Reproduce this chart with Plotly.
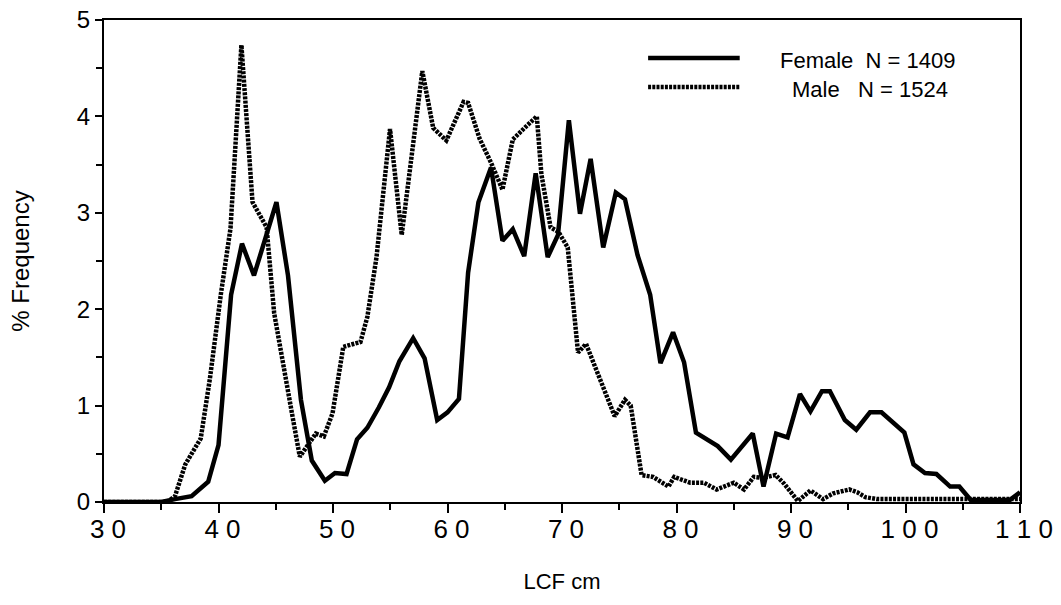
import plotly.graph_objects as go

# ---- data ----
female_cm = [30, 35, 36.2, 37.65, 39.1, 40.0, 41.1, 42.05, 43.1, 45.06, 46.07, 47.2, 48.15,
             49.29, 50.17, 51.18, 52.1, 53.0, 54.0, 54.9, 55.8, 57.0, 58.0, 59.1, 60.0,
             61.0, 61.8, 62.7, 63.8, 64.8, 65.7, 66.7, 67.7, 68.75, 69.65, 70.6, 71.57,
             72.5, 73.6, 74.7, 75.5, 76.6, 77.7, 78.6, 79.7, 80.66, 81.7, 83.6, 84.75,
             86.66, 87.6, 88.7, 89.7, 90.78, 91.7, 92.7, 93.4, 94.7, 95.7, 96.9, 97.9,
             98.7, 99.9, 100.7, 101.7, 102.7, 103.9, 104.7, 105.7, 109.1, 110]
female_pct = [0, 0, 0.03, 0.06, 0.21, 0.59, 2.15, 2.68, 2.35, 3.11, 2.35, 1.06, 0.43,
              0.22, 0.30, 0.29, 0.65, 0.77, 0.98, 1.19, 1.46, 1.70, 1.49, 0.85, 0.93,
              1.07, 2.38, 3.11, 3.47, 2.71, 2.83, 2.55, 3.41, 2.54, 2.77, 3.96, 2.99,
              3.56, 2.64, 3.21, 3.14, 2.56, 2.15, 1.44, 1.76, 1.45, 0.72, 0.58, 0.44,
              0.71, 0.16, 0.71, 0.67, 1.12, 0.94, 1.15, 1.15, 0.85, 0.75, 0.93, 0.93,
              0.85, 0.72, 0.39, 0.30, 0.29, 0.16, 0.16, 0.02, 0.02, 0.10]

male_cm = [30, 35.5, 36.2, 37.1, 38.45, 39.25, 40.2, 41.05, 42.0, 42.97, 44.2, 44.86,
           46.46, 47.1, 48.5, 49.2, 49.96, 50.9, 52.4, 53.0, 53.8, 54.98, 56.0, 57.8,
           58.75, 59.9, 61.4, 61.8, 62.8, 63.8, 64.8, 65.7, 66.9, 67.8, 68.2, 69.0,
           69.7, 70.5, 71.4, 72.1, 74.6, 75.5, 76.0, 76.95, 77.96, 79.3, 79.8, 81.2,
           82.4, 83.5, 85.0, 85.9, 86.75, 87.5, 88.65, 89.4, 90.6, 91.7, 92.8, 93.7,
           95.1, 95.8, 96.5, 97.5, 110]
male_pct = [0, 0, 0.06, 0.39, 0.66, 1.28, 2.15, 2.84, 4.74, 3.11, 2.85, 1.96,
            0.89, 0.47, 0.71, 0.68, 0.92, 1.61, 1.66, 1.92, 2.54, 3.87, 2.77, 4.47,
            3.88, 3.75, 4.15, 4.14, 3.77, 3.52, 3.24, 3.76, 3.90, 4.00, 3.40, 2.85,
            2.80, 2.64, 1.55, 1.64, 0.89, 1.06, 1.00, 0.28, 0.26, 0.16, 0.26, 0.20,
            0.20, 0.13, 0.20, 0.13, 0.26, 0.25, 0.28, 0.19, 0.01, 0.12, 0.03, 0.09,
            0.13, 0.10, 0.05, 0.03, 0.03]

x_tickvals = [30, 40, 50, 60, 70, 80, 90, 100, 110]
x_ticktext = ["3 0", "4 0", "5 0", "6 0", "7 0", "8 0", "9 0", "1 0 0", "1 1 0"]
y_tickvals = [0, 1, 2, 3, 4, 5]

legend_female = "Female\u00a0\u00a0N = 1409"
legend_male = "Male\u00a0\u00a0\u00a0N = 1524"

FONT = "Liberation Sans, Arial, Helvetica, sans-serif"
DOTS = "3px,1.2px"

fig = go.Figure()
fig.add_trace(go.Scatter(x=female_cm, y=female_pct, mode="lines",
                         line=dict(color="black", width=4.5), showlegend=False))
fig.add_trace(go.Scatter(x=male_cm, y=male_pct, mode="lines",
                         line=dict(color="black", width=4.5, dash=DOTS),
                         showlegend=False))

# custom legend keys
fig.add_shape(type="line", xref="paper", yref="paper", x0=0.594, x1=0.694,
              y0=0.921, y1=0.921, line=dict(color="black", width=4.5))
fig.add_shape(type="line", xref="paper", yref="paper", x0=0.594, x1=0.694,
              y0=0.861, y1=0.861, line=dict(color="black", width=4.5, dash=DOTS))
fig.add_annotation(x=0.833, y=0.915, xref="paper", yref="paper", text=legend_female,
                   showarrow=False, xanchor="center", yanchor="middle",
                   font=dict(size=22, color="black", family=FONT))
fig.add_annotation(x=0.836, y=0.855, xref="paper", yref="paper", text=legend_male,
                   showarrow=False, xanchor="center", yanchor="middle",
                   font=dict(size=22, color="black", family=FONT))

fig.update_layout(
    width=1061, height=605,
    margin=dict(l=104, r=41, t=20, b=103, autoexpand=False),
    paper_bgcolor="white", plot_bgcolor="white",
    font=dict(family=FONT, color="black"),
    xaxis=dict(range=[30, 110], tickvals=x_tickvals, ticktext=x_ticktext,
               automargin=False,
               showgrid=False, zeroline=False, showline=True, linecolor="black",
               linewidth=2, mirror=True, ticks="outside", ticklen=9, tickwidth=2,
               tickcolor="black", tickfont=dict(size=26), ticklabelstandoff=-6,
               ticklabelshift=4,
               minor=dict(dtick=5, tick0=30, ticks="outside", ticklen=6,
                          tickwidth=2, tickcolor="black", showgrid=False),
               title=dict(text="LCF cm", font=dict(size=22), standoff=30)),
    yaxis=dict(range=[0, 5], tickvals=y_tickvals,
               automargin=False,
               showgrid=False, zeroline=False, showline=True, linecolor="black",
               linewidth=2, mirror=True, ticks="outside", ticklen=7, tickwidth=2,
               tickcolor="black", tickfont=dict(size=24),
               minor=dict(dtick=0.5, tick0=0, ticks="outside", ticklen=6,
                          tickwidth=2, tickcolor="black", showgrid=False),
               title=dict(text="% Frequency", font=dict(size=24), standoff=40)),
)

fig.write_html("out.html")
